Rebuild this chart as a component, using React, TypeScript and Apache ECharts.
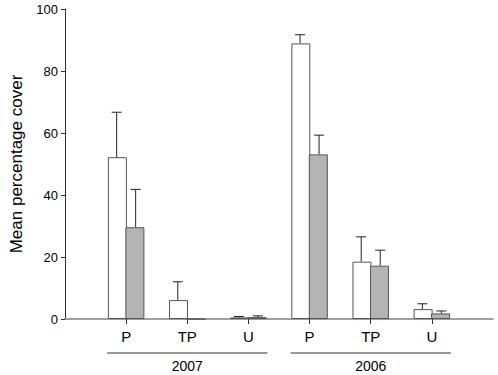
import React, { useEffect, useRef } from "react";
import * as echarts from "echarts";

const categories = ["", "P", "TP", "U", "P", "TP", "U", ""];
const years = ["2007", "2006"];
const whiteValues = [null, 52.2, 6.1, 0.5, 88.9, 18.5, 3.2, null];
const whiteErrors = [null, 14.5, 5.9, 0.3, 2.8, 8.0, 1.7, null];
const grayValues = [null, 29.6, 0, 0.6, 53.1, 17.2, 1.8, null];
const grayErrors = [null, 12.2, 0, 0.4, 6.2, 5.0, 0.8, null];
const yTicks = [0, 20, 40, 60, 80, 100];

const BAR_W = 19;
const FONT = "Liberation Sans, Arial, sans-serif";

export default function App() {
  const ref = useRef<HTMLDivElement>(null);
  useEffect(() => {
    if (!ref.current) return;
    const chart = echarts.init(ref.current, undefined, { renderer: "svg" });

    const errData = (vals: (number | null)[], errs: (number | null)[]) =>
      vals
        .map((v, i) => (v != null && errs[i] ? [i, v, errs[i]] : null))
        .filter((d) => d !== null);

    const errSeries = (data: any[], offset: number) => ({
      type: "custom",
      data,
      z: 5,
      renderItem: (params: any, api: any) => {
        const i = api.value(0);
        const v = api.value(1);
        const e = api.value(2);
        const p0 = api.coord([i, v]);
        const p1 = api.coord([i, v + e]);
        const x = p0[0] + offset;
        return {
          type: "group",
          children: [
            { type: "line", shape: { x1: x, y1: p0[1], x2: x, y2: p1[1] }, style: { stroke: "#222", lineWidth: 1 } },
            { type: "line", shape: { x1: x - 5, y1: p1[1], x2: x + 5, y2: p1[1] }, style: { stroke: "#222", lineWidth: 1 } },
          ],
        };
      },
    });

    chart.setOption({
      animation: false,
      grid: { left: 61, right: 5, top: 9, bottom: 56 },
      xAxis: {
        type: "category",
        data: categories,
        boundaryGap: false,
        axisLine: { lineStyle: { color: "#808080", width: 1.5 } },
        axisTick: {
          show: true,
          length: 5,
          interval: (idx: number) => idx > 0 && idx < categories.length - 1,
          lineStyle: { color: "#333" },
        },
        axisLabel: { color: "#000", fontSize: 15, fontFamily: FONT, margin: 10, interval: 0 },
      },
      yAxis: {
        type: "value",
        min: 0,
        max: 100,
        interval: 20,
        name: "Mean percentage cover",
        nameLocation: "middle",
        nameGap: 40,
        nameTextStyle: { color: "#000", fontSize: 17, fontFamily: FONT },
        axisLine: { show: true, lineStyle: { color: "#333" } },
        axisTick: { show: true, length: 4, lineStyle: { color: "#333" } },
        axisLabel: { color: "#000", fontSize: 13, fontFamily: FONT, margin: 7 },
        splitLine: { show: false },
      },
      series: [
        {
          type: "bar",
          data: whiteValues,
          barWidth: BAR_W,
          barGap: "-8%",
          itemStyle: { color: "#ffffff", borderColor: "#555", borderWidth: 1 },
        },
        {
          type: "bar",
          data: grayValues,
          barWidth: BAR_W,
          barGap: "-8%",
          itemStyle: { color: "#b4b4b4", borderColor: "#555", borderWidth: 1 },
        },
        errSeries(errData(whiteValues, whiteErrors), -BAR_W / 2),
        errSeries(errData(grayValues, grayErrors), BAR_W / 2),
      ],
    });

    const px = (i: number) => chart.convertToPixel({ xAxisIndex: 0 }, i) as number;
    const groups = [
      { label: years[0], from: 1, to: 3 },
      { label: years[1], from: 4, to: 6 },
    ];
    const graphics: any[] = [];
    groups.forEach((g) => {
      const x1 = px(g.from) - BAR_W;
      const x2 = px(g.to) + BAR_W;
      graphics.push({
        type: "line",
        shape: { x1, y1: 353, x2, y2: 353 },
        style: { stroke: "#333", lineWidth: 1 },
      });
      graphics.push({
        type: "text",
        x: (px(g.from) + px(g.to)) / 2,
        y: 366,
        style: { text: g.label, fill: "#000", fontSize: 14, fontFamily: FONT, align: "center", verticalAlign: "middle" },
      });
    });
    chart.setOption({ graphic: graphics });

    return () => chart.dispose();
  }, []);
  return <div ref={ref} style={{ width: 498, height: 375, position: "absolute", left: 0, top: 0, background: "#fff" }} />;
}
